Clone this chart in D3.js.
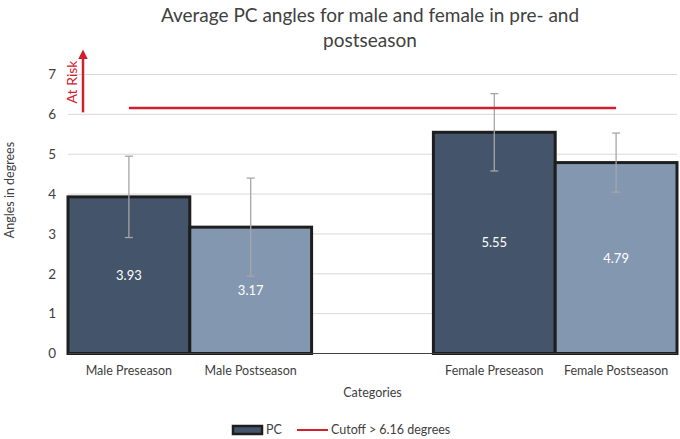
<!DOCTYPE html>
<html>
<head>
<meta charset="utf-8">
<script src="https://cdn.jsdelivr.net/npm/d3@7"></script>
<style>
  body { margin: 0; background: #fff; }
  svg text { font-family: Lato, "Open Sans", sans-serif; }
</style>
</head>
<body>
<div id="chart"></div>
<script>
// data
var categories = ["Male Preseason", "Male Postseason", "", "Female Preseason", "Female Postseason"];
var values = [3.93, 3.17, null, 5.55, 4.79];
var errors = [1.02, 1.23, null, 0.97, 0.74];
var barColors = ["#44546a", "#8497b0", null, "#44546a", "#8497b0"];
var yTicks = [0, 1, 2, 3, 4, 5, 6, 7];
var cutoff = 6.16;

var width = 680, height = 439;
var margin = {top: 74.5, right: 3, bottom: 85.5, left: 68};
var w = width - margin.left - margin.right,
    h = height - margin.top - margin.bottom;

var svg = d3.select("#chart").append("svg")
    .attr("width", width)
    .attr("height", height);

var g = svg.append("g")
    .attr("transform", "translate(" + margin.left + "," + margin.top + ")");

var x = d3.scaleBand()
    .domain(d3.range(categories.length))
    .range([0, w])
    .padding(0);

var y = d3.scaleLinear()
    .domain([0, 7])
    .range([h, 0]);

// gridlines
g.selectAll(".grid")
    .data(yTicks.filter(function(d) { return d > 0; }))
    .enter().append("line")
    .attr("class", "grid")
    .attr("x1", 0).attr("x2", w)
    .attr("y1", function(d) { return y(d); })
    .attr("y2", function(d) { return y(d); })
    .attr("stroke", "#d9d9d9")
    .attr("stroke-width", 1);

// y axis labels
var yAxis = d3.axisLeft(y).tickValues(yTicks).tickFormat(d3.format("d"))
    .tickSize(0).tickPadding(12);
g.append("g")
    .attr("class", "y-axis")
    .call(yAxis)
    .call(function(s) { s.select(".domain").remove(); })
    .selectAll("text")
    .attr("font-size", 13.5)
    .attr("fill", "#404040");

// bars
var idx = d3.range(categories.length).filter(function(i) { return values[i] != null; });

g.selectAll(".bar")
    .data(idx)
    .enter().append("rect")
    .attr("class", "bar")
    .attr("x", function(i) { return x(i); })
    .attr("y", function(i) { return y(values[i]); })
    .attr("width", x.bandwidth())
    .attr("height", function(i) { return h - y(values[i]); })
    .attr("fill", function(i) { return barColors[i]; })
    .attr("stroke", "#1e1e1e")
    .attr("stroke-width", 3);

// x baseline
g.append("line")
    .attr("x1", 0).attr("x2", w)
    .attr("y1", h).attr("y2", h)
    .attr("stroke", "#404040")
    .attr("stroke-width", 1);

// value labels
g.selectAll(".val")
    .data(idx)
    .enter().append("text")
    .attr("class", "val")
    .attr("x", function(i) { return x(i) + x.bandwidth() / 2; })
    .attr("y", function(i) { return y(values[i] / 2); })
    .attr("dy", "0.35em")
    .attr("text-anchor", "middle")
    .attr("font-size", 13)
    .attr("fill", "#ffffff")
    .text(function(i) { return values[i].toFixed(2); });

// error bars
var eb = g.selectAll(".err")
    .data(idx)
    .enter().append("g")
    .attr("class", "err")
    .attr("stroke", "#a6a6a6")
    .attr("stroke-width", 1.3);

eb.append("line")
    .attr("x1", function(i) { return x(i) + x.bandwidth() / 2; })
    .attr("x2", function(i) { return x(i) + x.bandwidth() / 2; })
    .attr("y1", function(i) { return y(values[i] - errors[i]); })
    .attr("y2", function(i) { return y(values[i] + errors[i]); });

[-1, 1].forEach(function(sgn) {
    eb.append("line")
        .attr("x1", function(i) { return x(i) + x.bandwidth() / 2 - 4; })
        .attr("x2", function(i) { return x(i) + x.bandwidth() / 2 + 4; })
        .attr("y1", function(i) { return y(values[i] + sgn * errors[i]); })
        .attr("y2", function(i) { return y(values[i] + sgn * errors[i]); });
});

// cutoff line
g.append("line")
    .attr("x1", x(0) + x.bandwidth() / 2)
    .attr("x2", x(4) + x.bandwidth() / 2)
    .attr("y1", y(cutoff))
    .attr("y2", y(cutoff))
    .attr("stroke", "#d0202e")
    .attr("stroke-width", 2.5);

// at risk arrow
svg.append("defs").append("marker")
    .attr("id", "arrow")
    .attr("viewBox", "0 0 10 10")
    .attr("refX", 5).attr("refY", 5)
    .attr("markerWidth", 4).attr("markerHeight", 4)
    .attr("orient", "auto")
    .append("path")
    .attr("d", "M0,0 L10,5 L0,10 z")
    .attr("fill", "#d0202e");

g.append("line")
    .attr("x1", 15).attr("x2", 15)
    .attr("y1", y(6.05))
    .attr("y2", y(6.9) - 24)
    .attr("stroke", "#d0202e")
    .attr("stroke-width", 2.5)
    .attr("marker-end", "url(#arrow)");

svg.append("text")
    .attr("transform", "translate(77,82) rotate(-90)")
    .attr("text-anchor", "middle")
    .attr("font-size", 14)
    .attr("fill", "#d0202e")
    .text("At Risk");

// x labels
g.selectAll(".xlab")
    .data(d3.range(categories.length))
    .enter().append("text")
    .attr("class", "xlab")
    .attr("x", function(i) { return x(i) + x.bandwidth() / 2; })
    .attr("y", h + 21)
    .attr("text-anchor", "middle")
    .attr("font-size", 12.5)
    .attr("fill", "#404040")
    .text(function(i) { return categories[i]; });

// axis titles
svg.append("text")
    .attr("x", margin.left + x(2) + x.bandwidth() / 2)
    .attr("y", 397)
    .attr("text-anchor", "middle")
    .attr("font-size", 12.5)
    .attr("fill", "#404040")
    .text("Categories");

svg.append("text")
    .attr("transform", "translate(14,190) rotate(-90)")
    .attr("text-anchor", "middle")
    .attr("font-size", 12.5)
    .attr("fill", "#404040")
    .text("Angles in degrees");

// title
var title = svg.append("text")
    .attr("text-anchor", "middle")
    .attr("font-size", 19)
    .attr("fill", "#404040");
title.append("tspan").attr("x", 370).attr("y", 22)
    .text("Average PC angles for male and female in pre- and");
title.append("tspan").attr("x", 370).attr("y", 47)
    .text("postseason");

// legend
var leg = svg.append("g").attr("transform", "translate(232,430)");
leg.append("rect")
    .attr("x", 1).attr("y", -4)
    .attr("width", 29).attr("height", 8)
    .attr("fill", "#44546a")
    .attr("stroke", "#1e1e1e")
    .attr("stroke-width", 2.5);
leg.append("text")
    .attr("x", 34).attr("y", 0).attr("dy", "0.35em")
    .attr("font-size", 12.5).attr("fill", "#404040")
    .text("PC");
leg.append("line")
    .attr("x1", 65).attr("x2", 96)
    .attr("y1", 0).attr("y2", 0)
    .attr("stroke", "#d0202e").attr("stroke-width", 2);
leg.append("text")
    .attr("x", 99).attr("y", 0).attr("dy", "0.35em")
    .attr("font-size", 12.5).attr("fill", "#404040")
    .text("Cutoff > 6.16 degrees");
</script>
</body>
</html>
